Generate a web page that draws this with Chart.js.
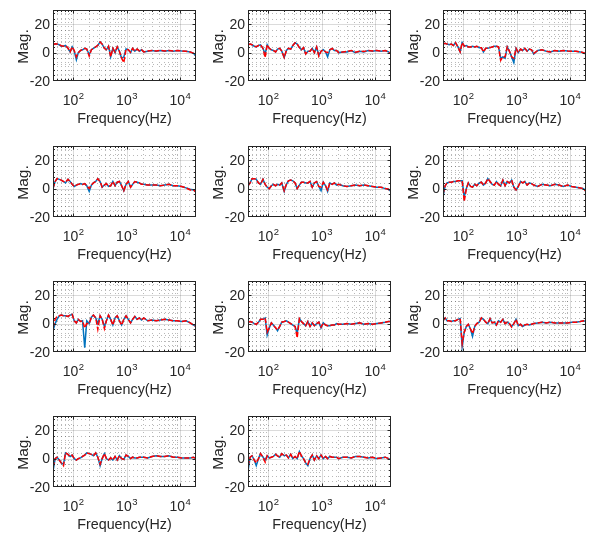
<!DOCTYPE html>
<html><head><meta charset="utf-8">
<script src="https://cdn.jsdelivr.net/npm/chart.js@4.4.0/dist/chart.umd.min.js"></script>
<style>
html,body{margin:0;padding:0;background:#fff;width:598px;height:536px;overflow:hidden;}
#wrap{position:relative;width:598px;height:536px;}
canvas{position:absolute;}
</style></head><body><div id="wrap"></div>
<script>
const freq = [42,46,50,55,60,66,72,80,88,96, 105,115,125,138,150,165,180,200,220,240, 265,290,320,350,385,420,460,505,555,610, 670,735,810,890,980,1080,1190,1300,1430,1580, 1740,1910,2100,2500,3000,3600,4300,5200,6200,7500, 9000,10800,13000,15600,18000,20000];

const blue1 = [5.5,6,6,5.5,4.5,4.5,5,3,0.5,4, 1,-5,0,1.5,2,3,2.5,-1.5,2,3, 4,5,7.5,6,3,2,4.5,-3,3,0, 4,1,-4,-3,2.5,2,0,3,1,2.5, 1,2,0.5,1,1.5,1,1.5,1,1.5,1, 1.5,1.2,1,0.5,-0.5,-2.5];
const red1  = [5.5,6.2,6,5.5,4.8,4.5,5,3.2,0.5,4, 1.5,-3,0,1.5,2.2,3,2.5,-2.5,2,3, 4,5.2,7.5,6,3,2,4.5,-3,3,0.3, 4,1,-4,-7,2.5,2,0.3,3,1,2.5, 1.2,2,0.5,1.2,1.5,1.2,1.5,1.2,1.5,1.2, 1.5,1.2,1,0.5,-0.5,-2.5];

const blue2 = [5.5,6,5.5,4.5,4,5,5.5,3,-1,5.5, 3,2,1.5,0.5,2.5,3,1,-3.5,1.5,3, 2.5,5,7,6,3.5,2,3.5,-1,1,1, 3,0,4,-2,1,2,0.5,-3,2,3, 1.5,1.5,0,0.5,0.5,1.5,0,1,0.5,1.5, 1,1.5,1,1.5,0.5,-1];
const red2  = [5.5,6,5.5,4.5,4.2,5,5.5,3,-3.5,5.5, 3,2,1.5,0.5,2.5,3,1,-3.5,1.5,3, 2.5,5,7,6,3.5,2,3.5,-1,1,1, 3,0,4,-2.5,1,2,0.5,0,2,3, 1.5,1.5,0,0.5,0.8,1.5,0.3,1,0.8,1.5, 1.2,1.5,1,1.5,0.5,-1];

const blue3 = [6,6.5,6,5.5,6,5,7,4,0.5,7, 4.5,5,4,4,4.5,4,4.5,3.5,3.5,0.5, 3,3,3.5,4,4.5,4.5,4,-4,-3,-4, 4,1,-3,-7,3,0,2.5,1.5,3,1, 2.5,2,-1,1.5,2,1,0.5,1.5,1,1.5, 1.2,1,1,0.5,0,-1];
const red3  = [6,6.5,6,5.5,6,5,7,4,0.5,7, 4.5,5,4,4,4.5,4,4.5,3.5,3.5,0.5, 3,3,3.5,4,4.5,4.5,4,-5.5,-3,-3, 4,1,-3,-4,3,0,2.5,1.5,3,1, 2.5,2,-0.5,1.5,2,1,0.5,1.5,1,1.5, 1.2,1,1,0.5,0,-1];

const blue4 = [0,5,7,6.5,6,5,4,6.5,5,3, 1.5,2.5,3,3.5,3,3.5,2,-2,2.5,4, 5,7,5,1,2.5,3.5,1.5,2,5,2, 4.5,5,2,-1.5,3,5,1,3,5,4.5, 4,3,3,2.5,2.5,2.5,2,2.5,3,2, 2,1.5,0.5,-0.5,-1,-2.5];
const red4  = [0,5,7,6.5,6,5,4.5,6.5,5,3, 1.5,2.5,3,3.5,3,3.5,2,0,2.5,4, 5,7,5,1,2.5,3.5,1.5,2,5,2, 4.5,5,2,-1.5,3,5,1,3,5,4.5, 4,3,3,2.5,2.5,2.5,2,2.5,3,2, 2,1.5,0.5,-1,-1,-2.5];

const blue5 = [2,4,7,7,6.5,4,3,6.5,3,1, 0,2,3,2,3,2.5,4,-2,3,5.5, 6,5.5,4,0,2.5,4.5,4.5,4,4,5, 1,4,5,1.5,-1.5,4.5,2,-2,4,3, 4,2.5,3,2,1.5,2,2.5,2,2.5,2, 1.5,1,1,0,-0.5,-2];
const red5  = [2,4,7,7,6.5,4,3,6.5,3,1, 0,2,3,2,3,2.5,4,-1.5,3,5.5, 6,5.5,4,0,2.5,4.5,4.5,4,4,5, 1,4,5,1.5,1,4.5,2,-1,4,3, 4,2.5,3,2,1.5,2,2.5,2,2.5,2, 1.5,1,1,0,-0.5,-2];

const blue6 = [-6,2,4,4.5,4.5,5,5,5.5,5.5,5.5, -6,0,4,1.5,1,3,2,4,4.5,2.5, 4,7,5,3,2.5,5,3,2,6,2, 5,4,6,1,-1,1.5,5,4,5,2.5, 4,3.5,2.5,1.5,3,2.5,2,3,2.5,1.5, 2.5,1.5,1,0.5,0,-2];
const red6  = [-4,2,4,4.5,4.5,5,5,5.5,5.5,5.5, -9,0,4,1.5,1,3,2,4,4.5,2.5, 4,7,5,3,2.5,5,3,2,6,2, 5,4,6,1,-1,1.5,5,4,5,2.5, 4,3.5,2.5,1.5,3,2.5,2,3,2.5,1.5, 2.5,1.5,1,0.5,0,-2];

const blue7 = [-5,0,3,5.5,6,5.5,5.5,5,6,6.5, 2,0.5,3,1.5,2,-17,2,0,4.5,6, 4,0,5.5,3,-2,2,6,3,-1,4, 5.5,2,-1,3,5.5,3,0.5,3,5,3, 4,2.5,4,2,2.5,2,2.5,3,2.5,2, 2,1.5,2,0.5,-1,-2];
const red7  = [-3,3,5,5.5,6,5.5,5.5,5,6,6.5, 2,0.5,3,1.5,2,-3,0,0,4.5,6, 4,-4,5.5,3,-3.5,2,6,3,-1,4, 5.5,2,-1,3,5.5,3,0.5,3,5,3, 4,2.5,4,2,2.5,2,2.5,3,2.5,2, 2,1.5,2,0.5,-1,-2];

const blue8 = [1,1.5,1,0,-0.5,1,3,3,4,-8, -3,0.5,-1,-3,-5,-2,1,1.5,2,1, 0,-1,-2,-7,3.5,1.5,0,-1.5,1.5,-2, 0.5,-1.5,0,1,-3,0.5,-1,-1.5,-1.5,-1, -1,0,-0.5,-0.5,0,-0.5,0,0.5,-0.5,0, -0.5,0,0.5,1,1.5,1.5];
const red8  = [1,1.5,1,0,-0.5,1,3,3,4,-6, -3,0.5,-1,-3,-4.5,-2,1,1.5,2,1, 0,-1,-2,-10,3.5,1.5,0,-1.5,1.5,-2, 0.5,-1.5,0,1,-2.5,0.5,-1,-1.5,-1.5,-1, -1,0,-0.5,-0.5,0,-0.5,0,0.5,-0.5,0, -0.5,0,0.5,1,1.5,1.5];

const blue9 = [2,4,2,2,1.5,2,2,3,3.5,-16, -6,-2,-0.5,-4,-9,-2,0,1,4,3, 1,0,3.5,0.5,1,-1,2,1,3,0, 1,0,-2,0,3,-1.5,-0.5,-2,-1,-0.5, -1,-0.5,0,0.5,1,0.5,1,0.5,0.5,0.5, 0.5,1,1,1.5,2,1.5];
const red9  = [2,4,2,2,1.5,2,2,3,3.5,-14, -6,-2,-0.5,-4,-7,-2,0,1,4,3, 1,0,3.5,0.5,1,-1,2,1,3,0, 1,0,-2.5,0,3,-1.5,-0.5,-2,-1,-0.5, -1,-0.5,0,0.5,1,0.5,1,0.5,0.5,0.5, 0.5,1,1,1.5,2,1.5];

const blue10 = [-9,0,1,-1,-3,-4,4,3,1.5,2.5, 0,-1,0,0.5,1.5,2.5,4,3.5,3,2, 4,1,-5,0,3.5,0,-1,0.5,-1,1.5, -1,2,0,-0.5,2.5,1.5,0,1,0.5,0.5, 1,1,1,0.5,1.5,2,1.5,1.5,2,1, 1,0.5,0.5,0.5,1,0];
const red10  = [-6,0,1,-1,-3,-5,4,3,1.5,2.5, 0,-1,0,0.5,1.5,2.5,4,3.5,3,2, 4,1,-4,0,3.5,0,-1,0.5,-1,1.5, -1,2,0,-0.5,2.5,1.5,0,1,0.5,0.5, 1,1,1,0.5,1.5,2,1.5,1.5,2,1, 1,0.5,0.5,0.5,1,0];

const blue11 = [-9,1,2,-1,-5,0,3.5,1,-1,2, 0.5,1,1.5,3,2,1,3.5,2,2.5,0.5, 3,0,1.5,0,5,2,0,-3,-5,0, 2.5,-1,2,0,2.5,0,1.5,0,1.5,1, 1,1,0,1,1,0.5,1.5,1.5,1,0.5, 1,0,0.5,1,0,-0.5];
const red11  = [-5,1,2,-1,-3,0,3.5,1,-2.5,2, 0.5,1,1.5,3,2,1,3.5,2,2.5,0.5, 3,0,1.5,0,5,2,0,-3,-4,0, 2.5,-1,2,0,2.5,0,1.5,0,1.5,1, 1,1,0,1,1,0.5,1.5,1.5,1,0.5, 1,0,0.5,1,0,-0.5];

const xTickValues = [100, 1000, 10000];
const xTickExponents = ['2', '3', '4'];
const yTickValues = [-20, 0, 20];
const xLabel = 'Frequency(Hz)';
const yLabel = 'Mag.';
const xMin = 42, xMax = 20000, yMin = -20, yMax = 30;

const panels = [
  [blue1, red1], [blue2, red2], [blue3, red3],
  [blue4, red4], [blue5, red5], [blue6, red6],
  [blue7, red7], [blue8, red8], [blue9, red9],
  [blue10, red10], [blue11, red11]
];

const BLUE = '#0072BD', RED = '#FF0000', TXT = '#262626';
const FONT = '"Liberation Sans", Arial, Helvetica, sans-serif';
const colLeft = [0, 195, 390];
const rowTop = [0, 136, 271, 406];
const CW = 198, CH = 135;

function seg(ctx, x1, y1, x2, y2) { ctx.beginPath(); ctx.moveTo(x1, y1); ctx.lineTo(x2, y2); ctx.stroke(); }

const framePlugin = {
  id: 'frame',
  beforeDatasetsDraw(chart) {
    const { ctx, chartArea: a, scales: { x, y } } = chart;
    ctx.save();
    ctx.beginPath(); ctx.rect(a.left, a.top, a.right - a.left, a.bottom - a.top); ctx.clip();
    ctx.lineWidth = 1;
    // minor grid (dotted)
    ctx.strokeStyle = 'rgba(0,0,0,0.28)';
    ctx.setLineDash([1, 3]);
    for (let d = 10; d <= 10000; d *= 10) {
      for (let m = 2; m <= 9; m++) {
        const v = d * m;
        if (v <= xMin || v >= xMax) continue;
        const px = Math.round(x.getPixelForValue(v)) + 0.5;
        seg(ctx, px, a.top, px, a.bottom);
      }
    }
    for (let v = yMin + 4; v < yMax; v += 4) {
      if (yTickValues.includes(v)) continue;
      const py = Math.round(y.getPixelForValue(v)) + 0.5;
      seg(ctx, a.left, py, a.right, py);
    }
    // major grid
    ctx.setLineDash([]);
    ctx.strokeStyle = 'rgba(0,0,0,0.14)';
    xTickValues.forEach(v => { const px = Math.round(x.getPixelForValue(v)) + 0.5; seg(ctx, px, a.top, px, a.bottom); });
    yTickValues.forEach(v => { const py = Math.round(y.getPixelForValue(v)) + 0.5; seg(ctx, a.left, py, a.right, py); });
    ctx.restore();
  },
  afterDatasetsDraw(chart) {
    const { ctx, chartArea: a, scales: { x, y } } = chart;
    ctx.save();
    ctx.strokeStyle = TXT;
    ctx.lineWidth = 1;
    const L = a.left + 0.5, R = a.right - 0.5, T = a.top + 0.5, B = a.bottom - 0.5;
    // ticks
    for (let d = 10; d <= 10000; d *= 10) {
      for (let m = 1; m <= 9; m++) {
        const v = d * m;
        if (v <= xMin || v >= xMax) continue;
        const len = m === 1 ? 3 : 1.5;
        const px = Math.round(x.getPixelForValue(v)) + 0.5;
        seg(ctx, px, B, px, B - len); seg(ctx, px, T, px, T + len);
      }
    }
    for (let v = yMin + 4; v < yMax; v += 4) {
      const len = yTickValues.includes(v) ? 3 : 1.5;
      const py = Math.round(y.getPixelForValue(v)) + 0.5;
      seg(ctx, L, py, L + len, py); seg(ctx, R, py, R - len, py);
    }
    // box
    ctx.strokeRect(L, T, R - L, B - T);
    // y tick labels
    ctx.fillStyle = TXT;
    ctx.font = '14px ' + FONT;
    ctx.textAlign = 'right'; ctx.textBaseline = 'middle';
    yTickValues.forEach(v => ctx.fillText(String(v), a.left - 3, y.getPixelForValue(v) + 1));
    // x tick labels with superscripts
    ctx.textBaseline = 'alphabetic';
    ctx.textAlign = 'left';
    xTickValues.forEach((v, i) => {
      const px = x.getPixelForValue(v);
      ctx.font = '14px ' + FONT;
      const w1 = ctx.measureText('10').width;
      ctx.font = '9.5px ' + FONT;
      const w2 = ctx.measureText(xTickExponents[i]).width;
      const x0 = px - (w1 + w2) / 2;
      ctx.font = '14px ' + FONT;
      ctx.fillText('10', x0, a.bottom + 24);
      ctx.font = '9.5px ' + FONT;
      ctx.fillText(xTickExponents[i], x0 + w1 + 0.5, a.bottom + 18);
    });
    // axis labels
    ctx.font = '14.3px ' + FONT;
    ctx.textAlign = 'center';
    ctx.fillText(xLabel, (a.left + a.right) / 2, a.bottom + 42);
    ctx.font = '15.5px ' + FONT;
    ctx.save();
    ctx.translate(a.left - 25, (a.top + a.bottom) / 2 + 1);
    ctx.rotate(-Math.PI / 2);
    ctx.fillText(yLabel, 0, 0);
    ctx.restore();
    ctx.restore();
  }
};

const wrap = document.getElementById('wrap');
panels.forEach((p, i) => {
  const r = Math.floor(i / 3), c = i % 3;
  const cv = document.createElement('canvas');
  cv.width = CW; cv.height = CH;
  cv.style.width = CW + 'px'; cv.style.height = CH + 'px';
  cv.style.left = colLeft[c] + 'px'; cv.style.top = rowTop[r] + 'px';
  wrap.appendChild(cv);
  new Chart(cv.getContext('2d'), {
    type: 'line',
    data: {
      labels: freq,
      datasets: [
        { data: freq.map((f, k) => ({ x: f, y: p[0][k] })), borderColor: BLUE, borderWidth: 1.5, pointRadius: 0, tension: 0, fill: false, order: 2 },
        { data: freq.map((f, k) => ({ x: f, y: p[1][k] })), borderColor: RED, borderWidth: 1.5, borderDash: [5, 2], pointRadius: 0, tension: 0, fill: false, order: 1 }
      ]
    },
    options: {
      responsive: false,
      animation: false,
      devicePixelRatio: 1,
      layout: { padding: { left: 53, top: 10, right: CW - 196, bottom: CH - 81 } },
      plugins: { legend: { display: false }, tooltip: { enabled: false } },
      scales: {
        x: { type: 'logarithmic', min: xMin, max: xMax, display: false },
        y: { type: 'linear', min: yMin, max: yMax, display: false }
      }
    },
    plugins: [framePlugin]
  });
});
</script>
</body></html>
